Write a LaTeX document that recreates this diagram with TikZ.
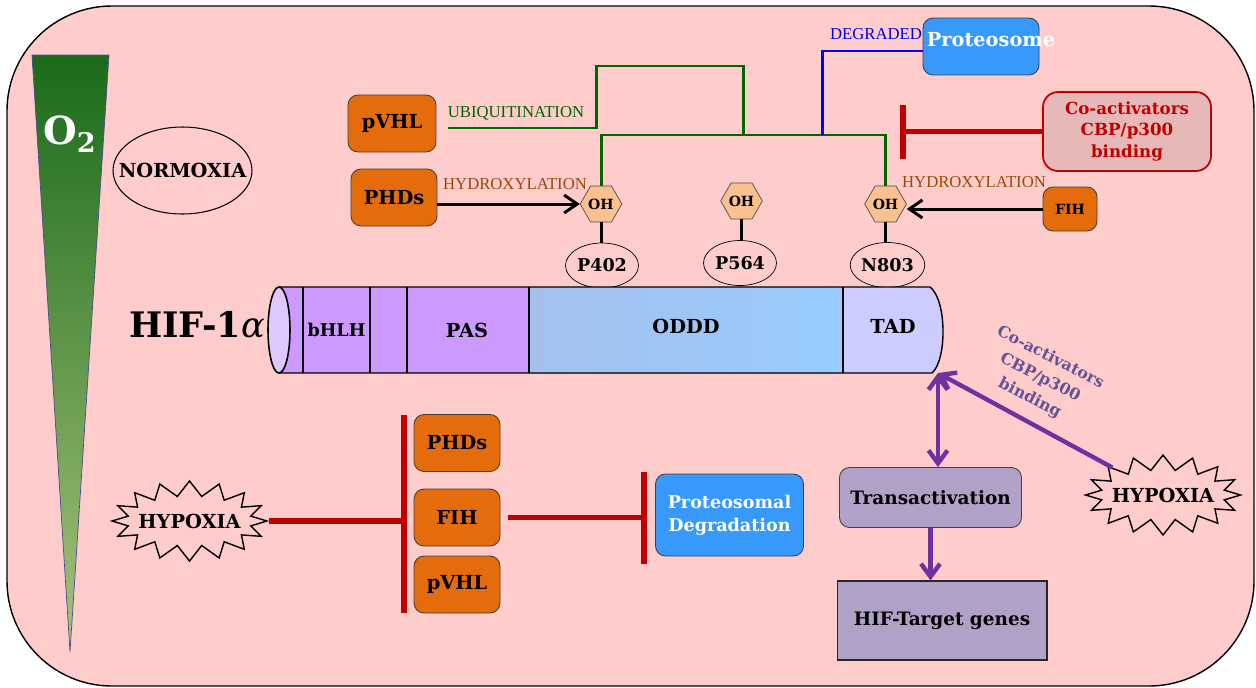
\documentclass[tikz,border=0pt]{standalone}
\usepackage{fontspec}
\setmainfont{DejaVu Serif}
\newfontfamily\lblfont{Liberation Serif}
\usetikzlibrary{arrows.meta,positioning,calc,shapes.geometric,shapes.symbols}

\definecolor{bgpink}{RGB}{255,204,204}
\definecolor{o2dark}{RGB}{26,106,26}
\definecolor{o2light}{RGB}{168,196,124}
\definecolor{orng}{RGB}{228,108,10}
\definecolor{protblue}{RGB}{55,153,252}
\definecolor{ubgreen}{RGB}{0,100,0}
\definecolor{hydbrown}{RGB}{152,72,7}
\definecolor{inhred}{RGB}{192,0,0}
\definecolor{coactfill}{RGB}{230,184,183}
\definecolor{hexfill}{RGB}{250,192,143}
\definecolor{domlilac}{RGB}{204,153,255}
\definecolor{domlight}{RGB}{222,200,255}
\definecolor{odddl}{RGB}{163,192,235}
\definecolor{odddr}{RGB}{153,204,255}
\definecolor{tadfill}{RGB}{204,204,255}
\definecolor{purp}{RGB}{112,48,160}
\definecolor{purptext}{RGB}{100,82,150}
\definecolor{transfill}{RGB}{178,161,199}
\newcommand\bsz[1]{\fontsize{#1}{#1}\selectfont\bfseries}

\begin{document}
\begin{tikzpicture}[x=0.02cm,y=-0.02cm,
  box/.style={draw=black!75,rounded corners=0.2cm,inner sep=0pt,line width=0.5pt},
  enzyme/.style={box,fill=orng,font=\bsz{11}},
  hexa/.style={regular polygon,regular polygon sides=6,draw=black!70,fill=hexfill,minimum size=0.72cm,inner sep=0pt,font=\bsz{8}},
  site/.style={ellipse,draw,line width=0.4pt,minimum width=1.46cm,minimum height=0.9cm,inner sep=0pt,font=\bsz{10}},
  burst/.style={starburst,random starburst=0,starburst points=16,starburst point height=0.3cm,draw,line width=0.8pt,minimum width=3.1cm,minimum height=1.6cm,inner sep=-0.15cm,font=\bsz{11}},
  lbl/.style={inner sep=0pt,font=\lblfont\fontsize{9.5}{11}\selectfont},
  hydarrow/.style={line width=1.7pt,-{Straight Barb[length=2.6mm,width=3.6mm]}},
  ubline/.style={ubgreen,line width=1.7pt},
  inhline/.style={inhred,line width=3.2pt},
  purpline/.style={purp,line width=2.5pt}]
  \useasboundingbox (0,0) rectangle (1256,687);
  % cell
  \draw[fill=bgpink,line width=0.8pt,rounded corners=2.1cm] (7,6) rectangle (1254,686);
  % oxygen gradient
  \shade[top color=o2dark,bottom color=o2light,draw=blue!40!black!70,line width=0.4pt] (32,55) -- (109,55) -- (70,652) -- cycle;
  \node[text=white,font=\bsz{22}] (otwo) at (70,134) {O\textsubscript{2}};
  \node[draw,ellipse,line width=0.6pt,minimum width=2.78cm,minimum height=1.74cm,inner sep=-0.3cm,font=\bsz{11}] (normox) at (182.5,170.5) {NORMOXIA};

  % normoxia: enzymes and sites
  \node[enzyme,minimum width=1.76cm,minimum height=1.14cm] (pvhl) at (392,123.5) {pVHL};
  \node[enzyme,minimum width=1.72cm,minimum height=1.14cm] (phd) at (394,197.5) {PHDs};
  \node[hexa] (oh1) at (601,204) {OH};
  \node[hexa] (oh2) at (741.5,201) {OH};
  \node[hexa] (oh3) at (885.5,204) {OH};
  \node[site] (p402) at (602,265.5) {P402};
  \node[site] (p564) at (740,263) {P564};
  \node[site] (n803) at (887.5,265) {N803};
  \node[enzyme,minimum width=1.08cm,minimum height=0.88cm,font=\bsz{8}] (fih) at (1070,209) {FIH};
  \node[box,fill=protblue,minimum width=2.32cm,minimum height=1.14cm] (prot) at (981,46.5) {};
  \node[text=white,font=\bsz{11}] (protlbl) at (991,40) {Proteosome};
  \node[box,fill=coactfill,draw=inhred,line width=1pt,rounded corners=0.3cm,minimum width=3.36cm,minimum height=1.58cm,text=inhred,align=center,font=\fontsize{9.5}{12}\selectfont\bfseries] (coact) at (1127,131.5) {Co-activators\\CBP/p300\\binding};

  \node[lbl,text=ubgreen] (ublbl) at (516,113) {UBIQUITINATION};
  \node[lbl,text=hydbrown] (hydlbl1) at (515,184) {HYDROXYLATION};
  \node[lbl,text=hydbrown] (hydlbl2) at (974,182) {HYDROXYLATION};
  \node[lbl,text=blue!90!black] (deglbl) at (876,34) {DEGRADED};

  \coordinate (ubjoin) at (743,135);
  \coordinate (degjoin) at (822,135);
  \coordinate (coactbar) at (900,131.5);
  \draw[ubline] ($(pvhl.east)+(12,4.5)$) -| (596,66) -| (ubjoin);
  \draw[ubline] (oh1.north) |- (ubjoin) -| (oh3.north);
  \draw[blue,line width=1.7pt] (degjoin) |- ($(prot.west)+(0,4.5)$);
  \draw[inhline,-{Bar[width=1.08cm]}] (coact.west) -- (coactbar);
  \draw[hydarrow] (phd.east |- oh1.west) -- (oh1.west);
  \draw[hydarrow] (fih.west) -- (oh3.east |- fih.west);
  \foreach \a/\b in {oh1/p402,oh2/p564,oh3/n803}
    \draw[line width=1.7pt] (\a.south) -- (\a.south |- \b.north);

  % HIF-1a
  \fill[domlilac] (279,287) rectangle (529,373);
  \shade[left color=odddl,right color=odddr] (529,287) rectangle (843,373);
  \fill[tadfill] (843,287) -- (930,287) .. controls (947,300) and (947,360) .. (932,373) -- (843,373) -- cycle;
  \draw[line width=0.8pt] (279,287) -- (930,287) .. controls (947,300) and (947,360) .. (932,373) -- (279,373);
  \foreach \x in {303,370,407,529,843}
    \draw[line width=0.6pt] (\x,287) -- (\x,373);
  \draw[fill=domlight,line width=0.9pt] (279,330) ellipse [x radius=0.22cm,y radius=0.86cm];
  \node[font=\fontsize{20}{24}\selectfont\bfseries] (hiflbl) at (197,325) {HIF-1{\mdseries\itshape α}};
  \node[font=\bsz{10}] (bhlh) at (336.5,330) {bHLH};
  \node[font=\bsz{11}] (pas) at (467,330) {PAS};
  \node[font=\bsz{11}] (oddd) at (686,326) {ODDD};
  \node[font=\bsz{11}] (tad) at (893,326) {TAD};
  \coordinate (tadend) at (938,373);

  % hypoxia
  \node[burst] (hyp1) at (189.5,521) {HYPOXIA};
  \node[burst] (hyp2) at (1163,495) {HYPOXIA};
  \node[enzyme,minimum width=1.72cm,minimum height=1.14cm] (phd2) at (457,443) {PHDs};
  \node[enzyme,minimum width=1.72cm,minimum height=1.14cm] (fih2) at (457,517.5) {FIH};
  \node[enzyme,minimum width=1.72cm,minimum height=1.14cm] (pvhl2) at (457,584.5) {pVHL};
  \node[box,fill=protblue,text=white,align=center,minimum width=2.96cm,minimum height=1.64cm,font=\fontsize{10}{13}\selectfont\bfseries] (pdeg) at (729.5,515) {Proteosomal\\Degradation};
  \node[box,fill=transfill,minimum width=3.64cm,minimum height=1.2cm,font=\bsz{10.5}] (trans) at (930.5,497.5) {Transactivation};
  \node[draw=black!85,fill=transfill,line width=0.6pt,minimum width=4.2cm,minimum height=1.58cm,font=\bsz{10.5}] (target) at (942,620.5) {HIF-Target genes};
  \node[rotate=-27,text=purptext,align=center,font=\fontsize{9}{13}\selectfont\bfseries] (cbplbl) at (1040,378) {Co-activators\\CBP/p300\\binding};

  \coordinate (bartop) at (404,415);
  \coordinate (barbot) at (404,613);
  \draw[inhline] (bartop) -- (barbot);
  \draw[inhline] (hyp1.east) -- (hyp1.east -| bartop);
  \draw[inhline,-{Bar[width=1.84cm]}] ($(fih2.east)+(8,0)$) -- ($(pdeg.west |- fih2.east)+(-8,0)$);
  \draw[purpline,{Straight Barb[length=2.6mm,width=3.8mm]}-{Straight Barb[length=2.6mm,width=3.8mm]}] (tadend) -- (tadend |- trans.north);
  \draw[purpline,-{Straight Barb[length=2.6mm,width=3.8mm]}] (hyp2) -- (tadend);
  \draw[purpline,-{Straight Barb[length=2.6mm,width=3.8mm]}] (trans.south) -- (trans.south |- target.north);
\end{tikzpicture}
\end{document}
